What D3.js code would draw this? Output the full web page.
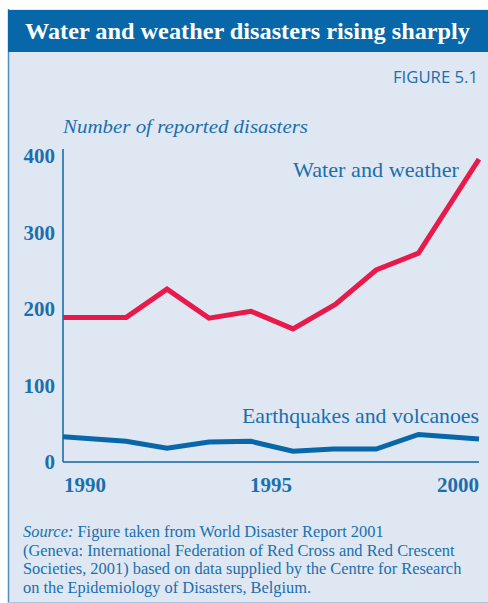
<!DOCTYPE html>
<html>
<head>
<meta charset="utf-8">
<script src="https://cdn.jsdelivr.net/npm/d3@7"></script>
<style>
  body { margin: 0; background: #fff; }
  svg { display: block; }
  .serif { font-family: "Liberation Serif", "DejaVu Serif", serif; }
</style>
</head>
<body>
<script>
// data (x positions are in years)
var waterYears = [1989.5, 1991.17, 1992.25, 1993.36, 1994.47, 1995.58, 1996.7, 1997.78, 1998.9, 2000.5];
var waterValues = [189, 189, 226, 188, 197, 174, 206, 251, 273, 396];
var quakeYears = [1989.5, 1991.17, 1992.25, 1993.36, 1994.47, 1995.58, 1996.65, 1997.78, 1998.9, 2000.5];
var quakeValues = [33, 27, 18, 26, 27, 14, 17, 17, 36, 30];
var yTicks = [0, 100, 200, 300, 400];
var xTicks = [1990, 1995, 2000];
var sourceLines = [
	"Figure taken from World Disaster Report 2001",
	"(Geneva: International Federation of Red Cross and Red Crescent",
	"Societies, 2001) based on data supplied by the Centre for Research",
	"on the Epidemiology of Disasters, Belgium."
];

var W = 488, H = 603;
var blue = "#0767a9", textBlue = "#1b6fad", red = "#e8194b", bg = "#dfe7f2";

var svg = d3.select("body").append("svg")
	.attr("width", W)
	.attr("height", H);

// panel background and frame
svg.append("rect").attr("x", 8).attr("y", 9).attr("width", W - 8).attr("height", H - 9).attr("fill", bg);
svg.append("line").attr("x1", 8.5).attr("x2", 8.5).attr("y1", 9).attr("y2", H)
	.attr("stroke", "#4f8fc4").attr("stroke-width", 1.5);
svg.append("line").attr("x1", 8).attr("x2", W).attr("y1", H - 0.5).attr("y2", H - 0.5)
	.attr("stroke", "#a9c3e0").attr("stroke-width", 1);

// title bar
svg.append("rect").attr("x", 8).attr("y", 10).attr("width", W - 8).attr("height", 42).attr("fill", blue);
svg.append("text")
	.attr("class", "serif")
	.attr("x", 25).attr("y", 39)
	.attr("textLength", 445).attr("lengthAdjust", "spacingAndGlyphs")
	.style("font-size", "23px").style("font-weight", "bold")
	.attr("fill", "#fff")
	.text("Water and weather disasters rising sharply");

svg.append("text")
	.attr("x", 478).attr("y", 83)
	.attr("text-anchor", "end")
	.style("font-family", "'Open Sans', 'DejaVu Sans', sans-serif")
	.style("font-size", "16px")
	.attr("textLength", 85).attr("lengthAdjust", "spacingAndGlyphs")
	.attr("fill", textBlue)
	.text("FIGURE 5.1");

svg.append("text")
	.attr("class", "serif")
	.attr("x", 63).attr("y", 133)
	.style("font-size", "19px").style("font-style", "italic")
	.attr("textLength", 245).attr("lengthAdjust", "spacingAndGlyphs")
	.attr("fill", textBlue)
	.text("Number of reported disasters");

// scales
var x = d3.scaleLinear().domain([1989.5, 2000.5]).range([63, 479]);
var y = d3.scaleLinear().domain([0, 400]).range([462, 156]);

// axes lines
svg.append("line").attr("x1", 63).attr("x2", 63).attr("y1", 149).attr("y2", y(0))
	.attr("stroke", blue).attr("stroke-width", 1.5);
svg.append("line").attr("x1", 63).attr("x2", 479).attr("y1", y(0)).attr("y2", y(0))
	.attr("stroke", blue).attr("stroke-width", 1.5);

svg.selectAll(".ytick")
	.data(yTicks)
	.enter().append("text")
	.attr("class", "serif ytick")
	.attr("x", 55)
	.attr("y", function(d) { return y(d) + 7; })
	.attr("text-anchor", "end")
	.style("font-size", "21px").style("font-weight", "bold")
	.attr("fill", textBlue)
	.text(function(d) { return d; });

svg.selectAll(".xtick")
	.data(xTicks)
	.enter().append("text")
	.attr("class", "serif xtick")
	.attr("x", function(d, i) { return i == 0 ? 64 : (i == xTicks.length - 1 ? 479 : x(d)); })
	.attr("y", 492)
	.attr("text-anchor", function(d, i) { return i == 0 ? "start" : (i == xTicks.length - 1 ? "end" : "middle"); })
	.style("font-size", "21px").style("font-weight", "bold")
	.attr("fill", textBlue)
	.text(function(d) { return d; });

// lines
var line = d3.line()
	.x(function(d) { return x(d[0]); })
	.y(function(d) { return y(d[1]); });

svg.append("path")
	.datum(d3.zip(quakeYears, quakeValues))
	.attr("d", line)
	.attr("fill", "none")
	.attr("stroke", blue)
	.attr("stroke-width", 5);

svg.append("path")
	.datum(d3.zip(waterYears, waterValues))
	.attr("d", line)
	.attr("fill", "none")
	.attr("stroke", red)
	.attr("stroke-width", 5);

// series labels
svg.append("text")
	.attr("class", "serif")
	.attr("x", 293).attr("y", 177)
	.attr("textLength", 166).attr("lengthAdjust", "spacingAndGlyphs")
	.style("font-size", "21px")
	.attr("fill", textBlue)
	.text("Water and weather");

svg.append("text")
	.attr("class", "serif")
	.attr("x", 242).attr("y", 423)
	.attr("textLength", 237).attr("lengthAdjust", "spacingAndGlyphs")
	.style("font-size", "21px")
	.attr("fill", textBlue)
	.text("Earthquakes and volcanoes");

// source note
var src = svg.append("text")
	.attr("class", "serif")
	.style("font-size", "16.4px")
	.attr("fill", textBlue);

sourceLines.forEach(function(s, i) {
	var t = src.append("tspan").attr("x", 23).attr("y", 537 + i * 18.7);
	if (i == 0) {
		t.append("tspan").style("font-style", "italic").text("Source:");
		t.append("tspan").text(" " + s);
	} else {
		t.text(s);
	}
});
</script>
</body>
</html>
